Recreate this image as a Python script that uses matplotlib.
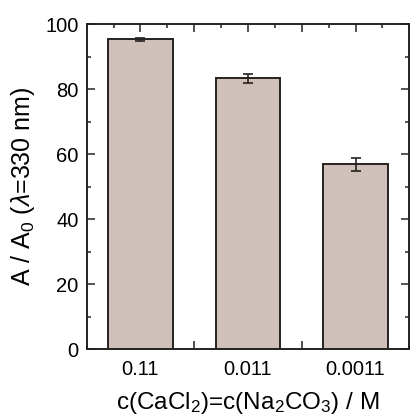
import numpy as np
import matplotlib
matplotlib.use('Agg')
import matplotlib.pyplot as plt
from matplotlib.ticker import MultipleLocator

plt.rcParams['font.family'] = ['Liberation Sans', 'DejaVu Sans']
plt.rcParams['mathtext.fontset'] = 'custom'
plt.rcParams['mathtext.rm'] = 'Liberation Sans'
plt.rcParams['mathtext.it'] = 'Liberation Sans:italic'

# data
categories = ['0.11', '0.011', '0.0011']
ratio = [95.4, 83.4, 56.9]
ratio_err = [0.5, 1.4, 2.0]

bar_color = '#cfc0b9'
edge_color = '#262220'

fig = plt.figure(figsize=(4.11, 4.20), dpi=100)
ax = fig.add_axes([0.211, 0.169, 0.785, 0.773])

x = np.arange(1, len(categories) + 1)
ax.bar(x, ratio, width=0.6, color=bar_color, edgecolor=edge_color, linewidth=1.4, zorder=2)
ax.errorbar(x, ratio, yerr=ratio_err, fmt='none', ecolor=edge_color,
            elinewidth=1.2, capsize=3.5, capthick=1.2, zorder=3)

ax.set_xlim(0.5, 3.5)
ax.set_ylim(0, 100)

ax.set_xticks([1, 1.5, 2, 2.5, 3], [categories[0], '', categories[1], '', categories[2]])
ax.xaxis.set_minor_locator(MultipleLocator(0.25))
ax.yaxis.set_major_locator(MultipleLocator(20))
ax.yaxis.set_minor_locator(MultipleLocator(10))

ax.tick_params(which='both', direction='in', top=True, right=True,
               color=edge_color, labelsize=14.5, pad=6)
ax.tick_params(axis='x', which='both', pad=8)
ax.tick_params(which='major', length=6, width=1.1)
ax.tick_params(which='minor', length=3, width=1.1)
for s in ax.spines.values():
    s.set_linewidth(1.4)
    s.set_color(edge_color)

ax.set_ylabel(r'A / A$_0$ ($\lambda$=330 nm)', fontsize=18, labelpad=6)
ax.set_xlabel(r'c(CaCl$_2$)=c(Na$_2$CO$_3$) / M', fontsize=17.5, labelpad=8)

fig.savefig('out.png', dpi=100)
